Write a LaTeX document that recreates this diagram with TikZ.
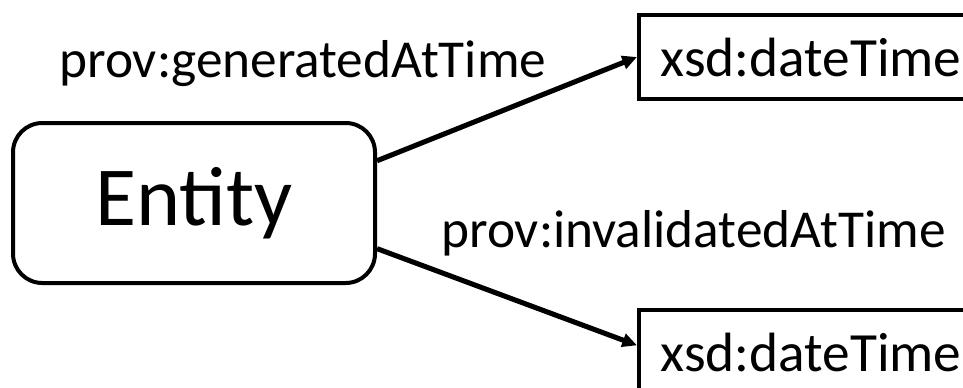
\documentclass[tikz,border=0pt]{standalone}
\usepackage{fontspec}
\setmainfont{Carlito}
\usetikzlibrary{arrows.meta}

\begin{document}
\begin{tikzpicture}[x=0.75pt,y=0.75pt,yscale=-1,xscale=1,
        entbox/.style={draw, line width=3pt, rounded corners=22pt, minimum width=271.5pt, minimum height=120pt, font=\fontsize{63}{72}\selectfont},
        valbox/.style={draw, line width=3pt, anchor=north west, minimum height=63pt, inner xsep=16pt, text width=250pt, align=left, font=\fontsize{41.5}{50}\selectfont},
        proplabel/.style={anchor=base west, inner sep=0pt, font=\fontsize{40}{48}\selectfont},
        proparrow/.style={line width=3.8pt, -{Triangle[length=11pt,width=10pt]}}]
        \clip (0,0) rectangle (963,387);
        \node[entbox] (ent) at (194,203) {Entity};
        \node[valbox] (dtgen) at (637,13) {xsd:dateTime};
        \node[valbox] (dtinv) at (637,308) {xsd:dateTime};
        \draw[proparrow] (ent.13.4) -- (dtgen.west);
        \draw[proparrow] (ent.-14) -- ([yshift=-5pt]dtinv.west);
        \node[proplabel] (lgen) at (59,77) {prov:generatedAtTime};
        \node[proplabel] (linv) at (441,247) {prov:invalidatedAtTime};
\end{tikzpicture}
\end{document}
